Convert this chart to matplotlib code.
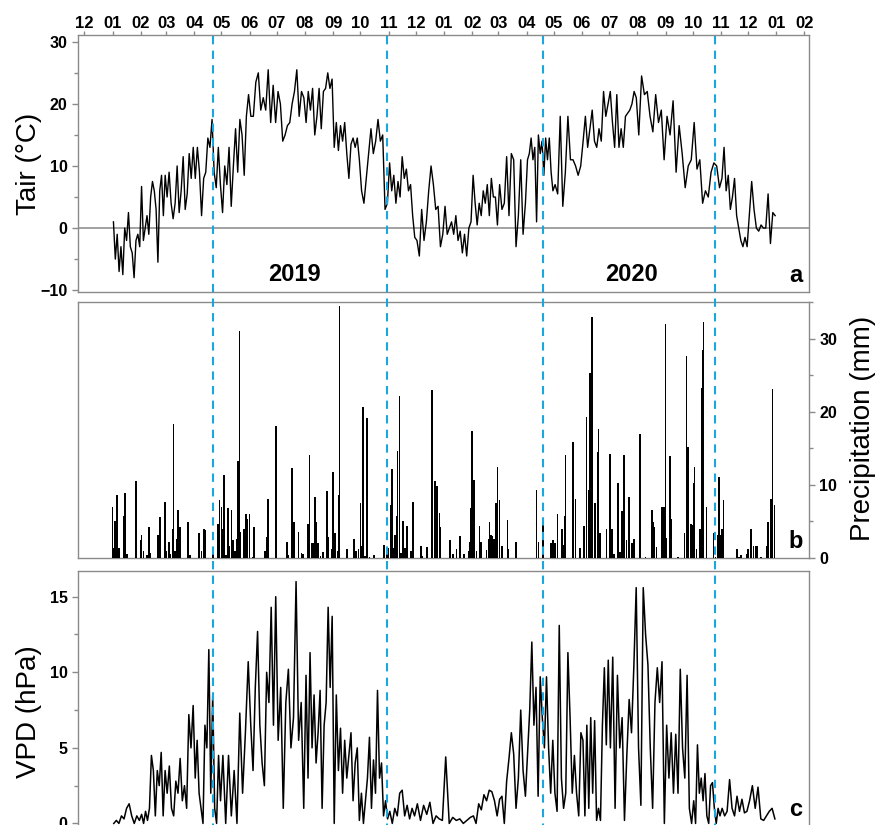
import matplotlib
matplotlib.use('Agg')
import matplotlib.pyplot as plt
import matplotlib.dates as mdates
import matplotlib.transforms as mtransforms
from matplotlib.lines import Line2D
from matplotlib.ticker import MultipleLocator
import numpy as np
import pandas as pd

plt.rcParams['font.family'] = ['Liberation Sans', 'DejaVu Sans']

# daily air temperature (°C), one list per month
tair_2019 = [
    [1, -5, -1, -7, -3, -7.5, 0, -2, 2.5, -3, -4, -8, -2, -1, -3],
    [6.7, -2, 0, 2, -1, 5, 7.5, 6, 3, -5.5, 6, 8.5, 2, 8.5],
    [5, 9, 4, 1.5, 4, 10, 2.5, 6, 11.5, 3, 5.5, 12, 8, 13],
    [8, 13, 9, 2, 8, 9, 14.5, 13, 17.5, 9, 6.5, 13, 7],
    [2.5, 10, 7, 13, 3.5, 10, 16, 9, 17.5, 15, 8.5, 18, 21.5],
    [18, 18, 23.5, 25, 19, 21, 19, 25.5, 17, 23, 17],
    [22, 20, 14, 15, 16.5, 17, 20, 22, 25.5, 18, 22, 21],
    [17, 22, 19, 22.5, 15, 18, 22.5, 16, 22, 22.5, 25, 22.5, 24],
    [13, 17, 12.5, 16.5, 14, 17, 12, 8, 13.5, 14.5, 13, 14.5, 11],
    [6, 4, 8, 12, 16, 12, 14, 17.5, 14, 15, 3, 4],
    [10.5, 6, 8.5, 4, 7.5, 5, 11.5, 8, 9.5, 6, 7, 2, -1.5],
    [-2, -4.5, 3, -2, 1, 6, 10, 7, 3, 3.5, -3, -1],
]
tair_2020 = [
    [3.5, -1, 0, 1, -1, 2, -2, -0.5, -4, -1, -4.5, 0, 1],
    [8.5, 4, 0.5, 4, 2, 6, 4, 7, 2, 8, 5, 5, 0.5],
    [7, 3, 4, 11.5, 2, 12, 11, -3, 2, 11, -1, 4],
    [11, 12, 14.5, 11, 13, 1, 15, 12, 14, 8.5, 14.5, 11, 14.5, 9, 6],
    [7, 5.5, 18, 3.5, 9, 18, 11, 11, 10, 8.5, 10],
    [14, 18, 13, 16, 19, 14, 13, 16, 14, 22, 18, 20],
    [22, 17, 13, 21.5, 13, 16, 13, 18, 18.5, 19, 20, 22, 21],
    [15, 24.5, 21.5, 22, 18, 15.5, 21.5, 17, 19, 11],
    [18, 15, 20.5, 9, 16.5, 12, 6.5, 10, 11],
    [17, 9.5, 11, 4, 6, 5, 9, 10.5, 10, 6.5],
    [8, 13, 6, 8.5, 3, 5, 8, 2, 0, -2, -3, -1.5, -3],
    [2, 7.5, 3, 0, -0.5, 0.5, 0, 0, 5.5, -2.5, 2.5, 2],
]

# vapour pressure deficit (hPa), one list per month
vpd_2019 = [
    [0, 0.2, 0, 0.5, 0.3, 1, 1.3, 0.5, 0, 0.5, 0.2],
    [0.6, 0, 0.8, 0.2, 1, 4.5, 3.5, 0.5, 3.5, 2.5, 4.7, 0.5, 3.5],
    [2, 3.8, 1, 0.5, 2.8, 2, 4.3, 1.5, 2.5, 1, 7.2, 5, 7.8],
    [3, 5.5, 2, 1, 0, 6.5, 5, 11.5, 2, 8.5, 1, 0, 4.5, 1.5],
    [4.5, 0, 4.5, 0.5, 3.5, 0, 7.3, 2, 6, 10.7],
    [6.5, 3.5, 9, 12.7, 6.5, 4, 2.5, 10, 8, 14.3, 6.5, 15],
    [5.5, 9, 1, 8, 10.2, 5, 7, 16, 5.5, 8, 1],
    [9.8, 3, 11.3, 5, 8.5, 4, 6, 8.8, 1, 6.5, 8, 14.3, 9, 13.7],
    [0, 8.5, 3.5, 6.3, 2, 5.5, 3, 4.5, 6, 1.5, 4, 5, 0.2],
    [2, 0, 1.5, 3, 5.7, 1, 4.2, 2, 8.8, 3, 4, 0.5, 1.5, 0.3],
    [0.8, 0, 1, 0.5, 2, 2.2, 0.5, 1.2, 0.3, 1, 0.5],
    [1.3, 0.2, 1.2, 0.6, 1.4, 0, 0.5, 0.3, 0.2],
]
vpd_2020 = [
    [4.4, 0, 0.4, 0.2, 0.3, 0, 0.2, 0.4],
    [0.5, 0, 1.3, 0.9, 1.9, 1.5, 2.2, 2.1, 1.5, 0.5],
    [1.6, 1.8, 0, 2.8, 4.3, 6, 4.6, 1, 3, 7.5, 3.5, 1.8],
    [4.8, 7.5, 12, 6.5, 9, 1.8, 9.7, 7, 5, 9.7, 5, 2, 5.5],
    [2, 0.8, 13.1, 3, 1, 2, 11.3, 7, 2, 4.5, 2, 0.5, 6],
    [5.5, 0.5, 6.5, 1, 7, 2, 6.8, 0.2, 1, 0.2, 6.5, 10.3, 5.2, 10.8],
    [5, 11, 1, 9.8, 5, 7, 0.2, 4.5, 8.2, 6, 10.4, 15.6],
    [5, 1.2, 15.6, 12.5, 10.5, 5, 1, 8, 10.3, 8, 10.7, 0],
    [6.5, 3, 6, 2, 5.9, 2, 10.2, 5, 3, 9.8, 1, 0],
    [1.5, 0, 5.2, 2, 3, 1.5, 3.3, 0.5, 0, 2.5, 2.7, 1, 0, 1, 0.5],
    [1, 0.5, 0.8, 2.9, 1, 0.5, 1.8, 0.8, 1.6, 0.7, 0.8],
    [1.5, 2.5, 1, 2.4, 0.3, 0.2, 0.5, 0.8, 1, 0.3],
]

# daily precipitation: day number since 2019-01-01 and amount (mm)
rain_day = [0, 1, 3, 5, 7, 12, 14, 16, 26, 31, 32, 34, 38, 40, 42, 50, 52, 58, 59, 62,
            64, 66, 67, 69, 71, 72, 74, 83, 85, 95, 98, 101, 102, 111, 116, 117, 118, 120, 121, 123,
            125, 127, 129, 131, 132, 133, 135, 137, 138, 140, 141, 145, 147, 148, 151, 154, 156, 168, 170, 171,
            180, 192, 194, 198, 200, 205, 208, 210, 215, 217, 219, 221, 223, 224, 226, 229, 232, 236, 238, 241,
            242, 243, 245, 248, 249, 250, 258, 266, 268, 271, 273, 274, 276, 278, 280, 283, 288, 299, 302, 304,
            306, 308, 309, 311, 313, 314, 316, 318, 320, 322, 324, 329, 331, 340, 341, 346, 352, 355, 357, 360,
            361, 372, 375, 379, 383, 387, 392, 394, 395, 396, 398, 401, 404, 406, 412, 414, 415, 417, 418, 420,
            422, 424, 426, 429, 435, 436, 444, 467, 469, 474, 483, 485, 487, 490, 495, 496, 498, 499, 507, 510,
            515, 519, 522, 524, 526, 527, 528, 531, 534, 535, 537, 544, 548, 550, 552, 557, 559, 561, 563, 564,
            566, 569, 572, 574, 581, 587, 594, 595, 597, 599, 605, 607, 609, 610, 614, 615, 623, 630, 632, 634,
            637, 638, 640, 641, 643, 647, 649, 650, 651, 654, 662, 664, 667, 668, 670, 671, 673, 688, 690, 692,
            698, 700, 703, 706, 708, 710, 714, 720, 722, 725, 727, 729]
rain_mm = [7.0, 1.4, 5.0, 8.6, 1.4, 5.8, 8.9, 0.5, 10.5, 2.4, 3.2, 1.0, 0.4, 4.2, 0.7, 3.2, 5.6, 7.6, 1.0, 2.2,
           0.6, 3.9, 18.3, 0.9, 2.6, 6.6, 4.2, 4.9, 0.4, 3.4, 0.9, 3.9, 3.8, 0.9, 4.6, 2.7, 7.9, 7.0, 3.9, 11.3,
           0.4, 6.8, 1.6, 6.5, 1.7, 2.4, 0.9, 2.6, 13.2, 31.1, 3.6, 4.0, 6.0, 5.4, 6.0, 0.2, 4.2, 0.9, 2.9, 8.1,
           18.1, 2.2, 0.4, 12.3, 4.9, 3.6, 0.7, 0.5, 4.6, 14.1, 2.0, 2.0, 8.4, 4.9, 2.0, 0.3, 0.8, 9.1, 2.9, 0.6,
           1.2, 11.8, 3.4, 0.9, 8.6, 34.4, 1.2, 2.6, 0.9, 1.2, 7.5, 1.7, 20.7, 0.3, 19.1, 0.2, 0.4, 1.8, 0.9, 1.4,
           7.3, 12.2, 1.4, 3.2, 5.8, 14.6, 22.2, 0.7, 5.0, 1.4, 4.4, 0.9, 7.6, 1.6, 0.3, 1.5, 23.0, 10.5, 9.8, 6.1,
           4.2, 2.4, 0.5, 1.2, 3.0, 0.5, 0.9, 2.2, 6.8, 17.3, 10.7, 0.9, 4.4, 2.2, 1.1, 2.6, 4.9, 3.2, 3.0, 2.6,
           7.5, 12.5, 7.9, 1.7, 5.2, 1.2, 2.2, 9.3, 2.2, 4.5, 2.0, 2.4, 2.0, 6.0, 4.0, 1.8, 5.8, 14.1, 15.9, 8.0,
           1.4, 4.4, 19.3, 9.3, 25.3, 6.6, 33.0, 7.5, 14.5, 17.7, 3.4, 3.9, 14.2, 4.0, 0.6, 10.2, 0.8, 6.4, 14.1, 14.1,
           2.4, 8.3, 2.0, 2.6, 17.0, 0.2, 6.5, 4.9, 4.2, 1.5, 7.0, 7.0, 32.0, 2.7, 13.9, 5.3, 0.2, 3.4, 27.6, 15.2,
           4.6, 4.5, 10.2, 12.4, 1.2, 3.9, 23.2, 28.5, 32.2, 7.0, 3.4, 0.2, 3.2, 11.1, 3.2, 4.0, 7.9, 1.2, 0.2, 0.4,
           0.6, 1.2, 3.9, 1.6, 1.6, 1.6, 0.2, 1.7, 4.9, 8.0, 23.1, 7.3]

# phenology boundaries (blue dashed lines)
season_dates = ['2019-04-22', '2019-10-30', '2020-04-19', '2020-10-26']
years = ['2019', '2020']


def spread_months(year, monthly):
    xs, ys = [], []
    for m, vals in enumerate(monthly, start=1):
        t0 = pd.Timestamp(year=year, month=m, day=1)
        frac = (np.arange(len(vals)) + 0.5) / len(vals)
        xs.extend(mdates.date2num(t0) + frac * t0.days_in_month)
        ys.extend(vals)
    return np.array(xs), np.array(ys)


tx1, ty1 = spread_months(2019, tair_2019)
tx2, ty2 = spread_months(2020, tair_2020)
tair_x = np.concatenate([tx1, tx2])
tair_y = np.concatenate([ty1, ty2])
vx1, vy1 = spread_months(2019, vpd_2019)
vx2, vy2 = spread_months(2020, vpd_2020)
vpd_x = np.concatenate([vx1, vx2])
vpd_y = np.concatenate([vy1, vy2])
rain_x = mdates.date2num(pd.Timestamp('2019-01-01')) + np.array(rain_day)

W, H = 876, 825
fig = plt.figure(figsize=(W / 100, H / 100), dpi=100)


def box(x0, y0, x1, y1):
    return [x0 / W, 1 - y1 / H, (x1 - x0) / W, (y1 - y0) / H]


ax1 = fig.add_axes(box(78, 35, 809, 292))
ax2 = fig.add_axes(box(78, 302, 809, 558), sharex=ax1)
ax3 = fig.add_axes(box(78, 571, 809, 831), sharex=ax1)

gray = '#8a8a8a'
for ax in (ax1, ax2, ax3):
    for s in ax.spines.values():
        s.set_color(gray)
        s.set_linewidth(1.0)
    ax.tick_params(colors=gray, labelcolor='black', which='both', direction='out')
    ax.tick_params(which='major', length=4, width=1)
    ax.tick_params(which='minor', length=3, width=1)

# panel a: air temperature
ax1.axhline(0, color='#9a9a9a', lw=1.3, zorder=1)
ax1.plot(tair_x, tair_y, color='black', lw=1.0, zorder=3)
ax1.set_ylim(-10.3, 31.1)
ax1.yaxis.set_major_locator(MultipleLocator(10))
ax1.yaxis.set_minor_locator(MultipleLocator(5))
ax1.set_ylabel('Tair (°C)', fontsize=20)
ax1.yaxis.set_label_coords(-0.049, 0.5)

# panel b: precipitation
ax2.bar(rain_x, rain_mm, width=1.8, color='black', linewidth=0, zorder=3)
ax2.set_ylim(0, 35)
ax2.yaxis.tick_right()
ax2.yaxis.set_label_position('right')
ax2.yaxis.set_major_locator(MultipleLocator(10))
ax2.yaxis.set_minor_locator(MultipleLocator(5))
ax2.set_ylabel('Precipitation (mm)', fontsize=20)
ax2.yaxis.set_label_coords(1.056, 0.505)

# panel c: VPD
ax3.plot(vpd_x, vpd_y, color='black', lw=1.1, zorder=3)
ax3.set_ylim(-0.5, 16.7)
ax3.yaxis.set_major_locator(MultipleLocator(5))
ax3.yaxis.set_minor_locator(MultipleLocator(2.5))
ax3.set_ylabel('VPD (hPa)', fontsize=20)
ax3.yaxis.set_label_coords(-0.049, 0.46)

ax1.set_xlim(mdates.date2num(pd.Timestamp('2018-11-24')),
             mdates.date2num(pd.Timestamp('2021-02-06')))
ax1.xaxis.set_major_locator(mdates.MonthLocator())
ax1.xaxis.set_major_formatter(mdates.DateFormatter('%m'))
ax1.tick_params(axis='x', top=True, labeltop=True, bottom=False, labelbottom=False,
                pad=0, length=3)
for ax in (ax2, ax3):
    ax.tick_params(axis='x', top=False, bottom=False, labelbottom=False, labeltop=False)

for ax in (ax1, ax2, ax3):
    for lab in ax.get_yticklabels():
        lab.set_fontweight('bold')
        lab.set_fontsize(11.5)
for lab in ax1.get_xticklabels():
    lab.set_fontweight('bold')
    lab.set_fontsize(12)

# season boundaries run through all three panels
trans = mtransforms.blended_transform_factory(ax1.transData, fig.transFigure)
for d in season_dates:
    xd = mdates.date2num(pd.Timestamp(d))
    fig.add_artist(Line2D([xd, xd], [1 - 36 / H, 0], transform=trans,
                          color='#1aa7e0', lw=1.5, ls=(0, (4, 3)), zorder=5))

ax1.text(mdates.date2num(pd.Timestamp('2019-07-20')), -7.5, years[0], ha='center', va='center',
         fontsize=17, fontweight='bold')
ax1.text(mdates.date2num(pd.Timestamp('2020-07-25')), -7.5, years[1], ha='center', va='center',
         fontsize=17, fontweight='bold')
for ax, letter in ((ax1, 'a'), (ax2, 'b'), (ax3, 'c')):
    ax.text(0.982, 0.02 if ax is not ax3 else 0.04, letter, transform=ax.transAxes,
            ha='center', va='bottom', fontsize=17, fontweight='bold')

fig.savefig('out.png', dpi=100)
